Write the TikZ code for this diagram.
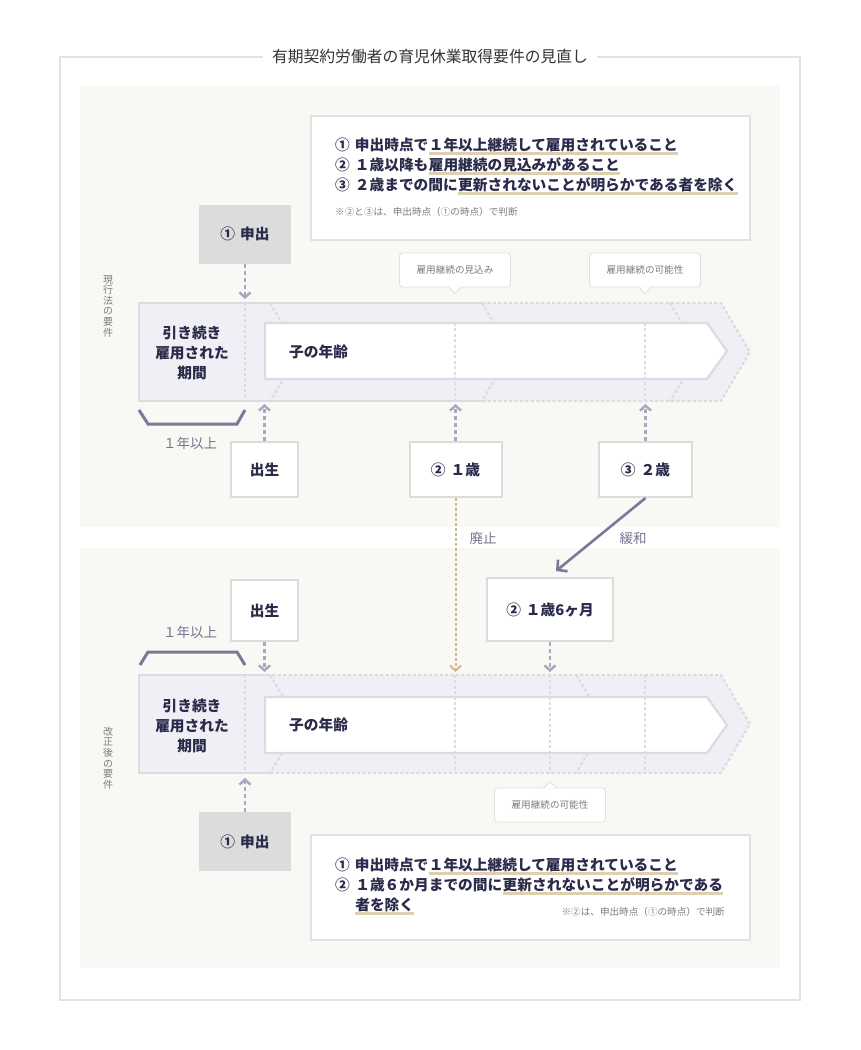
\documentclass[tikz,border=0pt]{standalone}
\usepackage{fontspec}
\setmainfont{Noto Sans CJK JP}
\usetikzlibrary{positioning,arrows.meta}
\definecolor{ink}{HTML}{2A2A4A}
\definecolor{titlec}{HTML}{333333}
\definecolor{mute}{HTML}{7C7C7C}
\definecolor{labc}{HTML}{74748E}
\definecolor{panelc}{HTML}{F9F8F5}
\definecolor{framec}{HTML}{E2E2E2}
\definecolor{bandc}{HTML}{EFEFF5}
\definecolor{edgec}{HTML}{DBDBE2}
\definecolor{ptedge}{HTML}{DCDCDC}
\definecolor{hintc}{HTML}{E0E0E0}
\definecolor{boxc}{HTML}{DCDCDC}
\definecolor{arrowc}{HTML}{A7A7BE}
\definecolor{tanc}{HTML}{CDBB8E}
\definecolor{ulc}{HTML}{DCD0B0}
\definecolor{slashc}{HTML}{7A7A98}

\begin{document}
\begin{tikzpicture}[x=1pt,y=-1pt,
  >={Straight Barb[length=5pt,width=11pt]},
  every node/.style={inner sep=0pt},
  req/.style={font=\bfseries\fontsize{14.7}{20}\selectfont,text=ink},
  smallnote/.style={font=\fontsize{9.6}{11}\selectfont,text=mute},
  labeltext/.style={font=\fontsize{13.5}{15}\selectfont,text=labc},
  vlabel/.style={font=\fontsize{10}{10.6}\selectfont,text=mute,align=center},
  askbox/.style={req,fill=boxc,minimum width=92pt,minimum height=59pt},
  ptbox/.style={req,fill=white,draw=ptedge,line width=2pt},
  hintbox/.style={smallnote,fill=white,draw=hintc,line width=0.9pt,rounded corners=3pt,minimum width=111pt,minimum height=34pt},
  reqframe/.style={fill=white,draw=framec,line width=2.5pt},
  bandline/.style={draw=edgec,line width=2.2pt},
  dotline/.style={draw=edgec,line width=2.2pt,dash pattern=on 3pt off 2.4pt},
  innerarrow/.style={fill=white,draw=edgec,line width=2.2pt},
  flow/.style={->,draw=arrowc,line width=2.4pt,dash pattern=on 4pt off 3pt},
  tanflow/.style={->,draw=tanc,line width=2pt,dash pattern=on 3pt off 2pt},
  easeflow/.style={-{Straight Barb[length=7pt,width=15pt]},draw=slashc,line width=2.6pt},
  bracket/.style={draw=slashc,line width=3pt},
  uline/.style={draw=ulc,line width=2.4pt}]
\useasboundingbox (0,0) rectangle (860,1050);

\fill[panelc] (80,86) rectangle (780,527);
\fill[panelc] (80,548) rectangle (780,968);
\draw[framec,line width=1.5pt] (60,57) rectangle (800,1000);
\node[font=\fontsize{15.8}{17}\selectfont,text=titlec,fill=white,inner xsep=9pt,inner ysep=3pt] (title) at (430,57) {有期契約労働者の育児休業取得要件の見直し};

\node[vlabel] (nowlaw) at (108,306) {現\\行\\法\\の\\要\\件};
\node[vlabel] (newlaw) at (108,758) {改\\正\\後\\の\\要\\件};

\coordinate (tTop) at (0,303);
\coordinate (tBot) at (0,401);
\coordinate (bTop) at (0,675);
\coordinate (bBot) at (0,773);

\draw[reqframe] (311,116) rectangle (750,240);
\node[req,anchor=base west] (ta1) at (335,150.5) {①\hspace{5pt}申出時点で};
\node[req,base right=0pt of ta1] (ta1u) {１年以上継続して雇用されていること};
\node[req,anchor=base west] (ta2) at (335,170.5) {②\hspace{5pt}１歳以降も};
\node[req,base right=0pt of ta2] (ta2u) {雇用継続の見込みがあること};
\node[req,anchor=base west] (ta3) at (335,190.5) {③\hspace{5pt}２歳までの間に};
\node[req,base right=0pt of ta3] (ta3u) {更新されないことが明らかである者を除く};
\node[smallnote,anchor=base west] (tanote) at (335,215.5) {※②と③は、申出時点（①の時点）で判断};
\foreach \u in {ta1u,ta2u,ta3u}
  \draw[uline] ([yshift=-3pt]\u.base west) -- ([yshift=-3pt]\u.base east);

\node[askbox] (task) at (245,234) {①\hspace{5pt}申出};
\node[hintbox] (tsee) at (455,270) {雇用継続の見込み};
\node[hintbox] (tposs) at (645,270) {雇用継続の可能性};
\foreach \h in {tsee,tposs}{
  \fill[white] ([xshift=-6pt,yshift=0.8pt]\h.south) -- ([yshift=-6pt]\h.south) -- ([xshift=6pt,yshift=0.8pt]\h.south) -- cycle;
  \draw[hintc,line width=0.9pt] ([xshift=-6pt]\h.south) -- ([yshift=-6pt]\h.south) -- ([xshift=6pt]\h.south);
}

\fill[bandc] (139,303) -- (721,303) -- (750,352) -- (721,401) -- (139,401) -- cycle;
\draw[bandline] (482,303) -- (139,303) -- (139,401) -- (482,401);
\draw[dotline] (482,303) -- (721,303) -- (750,352) -- (721,401) -- (482,401);
\draw[dotline] (482,303) -- (511,352) -- (482,401);
\draw[dotline] (670,303) -- (700,352) -- (670,401);
\draw[dotline] (270,303) -- (300,352) -- (270,401);
\draw[dotline] (245,303) -- (245,401);
\draw[innerarrow] (265,323) -- (707,323) -- (727,351) -- (707,379) -- (265,379) -- cycle;
\draw[dotline] (455,323) -- (455,401);
\draw[dotline] (645,323) -- (645,401);
\node[req,align=center] (tperiod) at (192,353) {引き続き\\雇用された\\期間};
\node[req,anchor=west] (tage) at (289,352) {子の年齢};

\draw[flow,shorten >=4pt] (task.south) -- (task.south |- tTop);

\node[ptbox,minimum width=67pt,minimum height=55pt] (tbirth) at (264.5,469.5) {出生};
\node[ptbox,minimum width=92pt,minimum height=55pt] (tone) at (455.5,469.5) {②\hspace{5pt}１歳};
\node[ptbox,minimum width=93pt,minimum height=55pt] (ttwo) at (645.5,469.5) {③\hspace{5pt}２歳};
\draw[flow,shorten >=3pt] (tbirth.north) -- (tbirth.north |- tBot);
\draw[flow,shorten >=3pt] (tone.north) -- (tone.north |- tBot);
\draw[flow,shorten >=3pt] (ttwo.north) -- (ttwo.north |- tBot);

\draw[bracket] (139,410) -- (148,424) -- (237,424) -- (245,410);
\node[labeltext] (tyear) at (190,443) {１年以上};

\node[labeltext] (abol) at (483,538) {廃止};
\node[labeltext] (ease) at (633,538) {緩和};
\coordinate (easeend) at (556,571);
\draw[tanflow,shorten >=3pt] (tone.south) -- (tone.south |- bTop);
\draw[easeflow] (ttwo.south) -- (easeend);

\node[ptbox,minimum width=67pt,minimum height=61pt] (bbirth) at (264.5,610.5) {出生};
\node[ptbox,minimum width=126pt,minimum height=63pt] (bhalf) at (550,609.5) {②\hspace{5pt}１歳6ヶ月};
\node[labeltext] (byear) at (190,632) {１年以上};
\draw[bracket] (140,665) -- (148,652) -- (237,652) -- (245,665);
\draw[flow,shorten >=3pt] (bbirth.south) -- (bbirth.south |- bTop);
\draw[flow,shorten >=3pt] (bhalf.south) -- (bhalf.south |- bTop);

\fill[bandc] (139,675) -- (721,675) -- (750,724) -- (721,773) -- (139,773) -- cycle;
\draw[bandline] (267,675) -- (139,675) -- (139,773) -- (270,773);
\draw[dotline] (267,675) -- (721,675) -- (750,724) -- (721,773) -- (270,773);
\draw[dotline] (270,675) -- (300,724) -- (270,773);
\draw[dotline] (576,675) -- (606,724) -- (576,773);
\draw[dotline] (245,675) -- (245,773);
\draw[innerarrow] (265,697) -- (707,697) -- (727,725) -- (707,753) -- (265,753) -- cycle;
\draw[dotline] (455,675) -- (455,773);
\draw[dotline] (550,675) -- (550,773);
\draw[dotline] (645,675) -- (645,773);
\node[req,align=center] (bperiod) at (192,726) {引き続き\\雇用された\\期間};
\node[req,anchor=west] (bage) at (289,725) {子の年齢};

\node[hintbox] (bposs) at (550,805) {雇用継続の可能性};
\fill[white] ([xshift=-6pt,yshift=-0.8pt]bposs.north) -- ([yshift=6pt]bposs.north) -- ([xshift=6pt,yshift=-0.8pt]bposs.north) -- cycle;
\draw[hintc,line width=0.9pt] ([xshift=-6pt]bposs.north) -- ([yshift=6pt]bposs.north) -- ([xshift=6pt]bposs.north);

\node[askbox] (bask) at (245,841.5) {①\hspace{5pt}申出};
\draw[flow,shorten >=5pt] (bask.north) -- (bask.north |- bBot);

\draw[reqframe] (311,835) rectangle (750,940);
\node[req,anchor=base west] (ba1) at (335,870.5) {①\hspace{5pt}申出時点で};
\node[req,base right=0pt of ba1] (ba1u) {１年以上継続して雇用されていること};
\node[req,anchor=base west] (ba2) at (335,890.5) {②};
\node[req,base right=5pt of ba2] (ba2m) {１歳６か月までの間に};
\node[req,base right=0pt of ba2m] (ba2u) {更新されないことが明らかである};
\path (ba2m.base west) ++(0,20) node[req,anchor=base west] (ba3u) {者を除く};
\node[smallnote,anchor=base east] (banote) at (725,915.5) {※②は、申出時点（①の時点）で判断};
\foreach \u in {ba1u,ba2u,ba3u}
  \draw[uline] ([yshift=-3pt]\u.base west) -- ([yshift=-3pt]\u.base east);
\end{tikzpicture}
\end{document}
